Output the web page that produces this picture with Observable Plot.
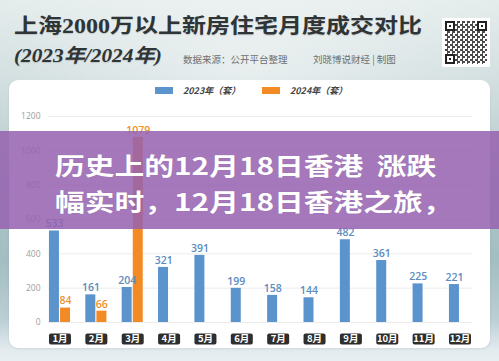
<!DOCTYPE html>
<html>
<head>
<meta charset="utf-8">
<script src="https://cdn.jsdelivr.net/npm/d3@7"></script>
<script src="https://cdn.jsdelivr.net/npm/@observablehq/plot@0.6"></script>
<style>
  body { margin: 0; }
  #page { position: relative; width: 499px; height: 361px; overflow: hidden;
    background:
      radial-gradient(ellipse 70% 45% at 50% 18%, rgba(255,255,255,0.55), rgba(255,255,255,0) 100%),
      linear-gradient(180deg, #e2eaea 0%, #cfdcdd 18%, #b3c9cc 45%, #a3bec2 72%, #b9ced3 88%, #e3ebef 97%, #e8eef2 100%);
    font-family: "Noto Sans CJK SC", sans-serif; }
  .title { position: absolute; left: 14px; top: 12px; font-family: "Liberation Serif", "Noto Sans CJK SC", serif;
    font-weight: 700; font-size: 20px; line-height: 28px; color: #2f3436; white-space: nowrap;
    transform: scaleX(1.2); transform-origin: left center; text-shadow: 0 1px 1px rgba(0,0,0,0.15); }
  .sub { position: absolute; left: 14px; top: 42px; font-family: "Liberation Serif", "Noto Sans CJK SC", serif;
    font-weight: 700; font-style: italic; font-size: 19px; line-height: 28px; color: #2f3436; white-space: nowrap;
    transform: scaleX(1.12); transform-origin: left center; text-shadow: 0 1px 1px rgba(0,0,0,0.15); }
  .src { position: absolute; top: 52px; font-size: 9.5px; line-height: 14px; color: #6a7071; white-space: nowrap; }
  .qr { position: absolute; left: 442px; top: 18px; width: 48px; height: 49px; background: #fff; border-radius: 1px; }
  .qr .in { position: absolute; left: 3px; top: 3px; width: 42px; height: 43px;
    background: repeating-conic-gradient(#2a2a2a 0 25%, #fff 0 50%) 0 0 / 5px 5px; opacity: 0.85; }
  .qr .f { position: absolute; width: 10px; height: 10px; background: #fff; border: 2px solid #222; box-sizing: border-box; }
  .qr .f::after { content: ""; position: absolute; left: 2px; top: 2px; width: 2px; height: 2px; background: #222; }
  .card { position: absolute; left: 9px; top: 80px; width: 481px; height: 268px; background: #fff; border-radius: 9px;
    box-shadow: 0 1px 3px rgba(0,0,0,0.08); }
  .legend { position: absolute; top: 84px; left: 0; width: 499px; height: 14px; font-size: 9px; font-weight: 700;
    font-style: italic; color: #454545; }
  .legend .sw { position: absolute; top: 3px; width: 18px; height: 7px; }
  .legend .lb { position: absolute; top: 0px; line-height: 14px; white-space: nowrap; }
  #chart { position: absolute; left: 0; top: 0; }
  .banner { position: absolute; left: 0; top: 131px; width: 499px; height: 98px; background: rgba(150, 98, 176, 0.86); }
  .banner .t { position: absolute; left: 55px; top: 16px; font-family: "Noto Sans CJK SC", sans-serif; font-weight: 700;
    font-size: 24px; line-height: 36px; color: #fff; white-space: pre; transform: scaleX(1.24); transform-origin: left top;
    text-shadow: 0 0 1px rgba(0,0,0,0.12); }
</style>
</head>
<body>
<div id="page">
  <div class="title" id="title"></div>
  <div class="sub" id="sub"></div>
  <div class="src" id="src1" style="left:183px"></div>
  <div class="src" id="src2" style="left:313px"></div>
  <div class="qr"><div class="in"></div>
    <div class="f" style="left:3px;top:3px"></div><div class="f" style="left:35px;top:3px"></div><div class="f" style="left:3px;top:36px"></div>
  </div>
  <div class="card"></div>
  <div class="legend" id="legend"></div>
  <div id="chart"></div>
  <div class="banner"><div class="t" id="banner"></div></div>
</div>
<script>
// ---- data ----
const months = ["1月","2月","3月","4月","5月","6月","7月","8月","9月","10月","11月","12月"];
const values2023 = [533, 161, 204, 321, 391, 199, 158, 144, 482, 361, 225, 221];
const values2024 = [84, 66, 1079];
const yTicks = [0, 200, 400, 600, 800, 1000, 1200];
const seriesNames = ["2023年（套）", "2024年（套）"];
const titleText = "上海2000万以上新房住宅月度成交对比";
const subText = "(2023年/2024年)";
const sourceText = "数据来源：公开平台整理";
const authorText = "刘晓博说财经 | 制图";
const bannerLines = ["历史上的12月18日香港  涨跌", "幅实时，12月18日香港之旅，"];

const colors = {"2023": "#5b93cc", "2024": "#f28b26"};
const labelColors = {"2023": "#5c8cc0", "2024": "#ee922c"};

document.getElementById("title").textContent = titleText;
document.getElementById("sub").textContent = subText;
document.getElementById("src1").textContent = sourceText;
document.getElementById("src2").textContent = authorText;
document.getElementById("banner").textContent = bannerLines.join("\n");

const legend = document.getElementById("legend");
[["2023", 155, 183], ["2024", 262, 290]].forEach(([k, sx, tx], j) => {
  const sw = document.createElement("div"); sw.className = "sw"; sw.style.left = sx + "px"; sw.style.background = colors[k];
  const lb = document.createElement("div"); lb.className = "lb"; lb.style.left = tx + "px"; lb.textContent = seriesNames[j];
  legend.appendChild(sw); legend.appendChild(lb);
});

const data2023 = months.map((m, i) => ({i: i + 1, month: m, value: values2023[i]}));
const data2024 = values2024.map((v, i) => ({i: i + 1, month: months[i], value: v}));
const monthData = months.map((m, i) => ({i: i + 1, month: m}));

const roundRect = {
  draw(ctx) {
    const w = 22, h = 11, r = 2;
    const x0 = -w / 2, x1 = w / 2, y0 = -h / 2, y1 = h / 2;
    ctx.moveTo(x0 + r, y0);
    ctx.lineTo(x1 - r, y0); ctx.arcTo(x1, y0, x1, y0 + r, r);
    ctx.lineTo(x1, y1 - r); ctx.arcTo(x1, y1, x1 - r, y1, r);
    ctx.lineTo(x0 + r, y1); ctx.arcTo(x0, y1, x0, y1 - r, r);
    ctx.lineTo(x0, y0 + r); ctx.arcTo(x0, y0, x0 + r, y0, r);
    ctx.closePath();
  }
};

const numFont = "'Open Sans', 'DejaVu Sans', sans-serif";

const chart = Plot.plot({
  width: 499,
  height: 361,
  marginTop: 116,
  marginBottom: 39,
  marginLeft: 48,
  marginRight: 27,
  x: {domain: [0.684, 12.344], axis: null},
  y: {domain: [0, 1200], axis: null},
  style: {background: "transparent", overflow: "visible"},
  marks: [
    Plot.ruleY(yTicks, {stroke: "#ebebeb", strokeWidth: 1}),
    Plot.axisY(yTicks, {tickSize: 0, tickPadding: 8, fill: "#9c9c9c", fontSize: 8.5, fontFamily: numFont, label: null,
      tickFormat: d => String(d)}),
    Plot.rectY(data2023, {x1: d => d.i - 0.29, x2: d => d.i - 0.015, y: "value", fill: colors["2023"]}),
    Plot.rectY(data2024, {x1: d => d.i + 0.015, x2: d => d.i + 0.29, y: "value", fill: colors["2024"]}),
    Plot.text(data2023, {x: d => d.i - 0.15, y: "value", text: d => String(d.value), dy: -7, fill: labelColors["2023"],
      fontSize: 10.5, fontWeight: 600, fontFamily: numFont}),
    Plot.text(data2024, {x: d => d.i + 0.15, y: "value", text: d => String(d.value), dy: -7, fill: labelColors["2024"],
      fontSize: 10.5, fontWeight: 600, fontFamily: numFont}),
    Plot.dot(monthData, {x: "i", frameAnchor: "bottom", dy: 16.5, symbol: roundRect, fill: "#2e2e2e", stroke: "none"}),
    Plot.text(monthData, {x: "i", frameAnchor: "bottom", lineAnchor: "middle", dy: 16.5, text: "month", fill: "#fff",
      fontSize: 9.5, fontWeight: 700, fontFamily: "'Noto Sans CJK SC', sans-serif"})
  ]
});
document.getElementById("chart").appendChild(chart);
</script>
</body>
</html>
